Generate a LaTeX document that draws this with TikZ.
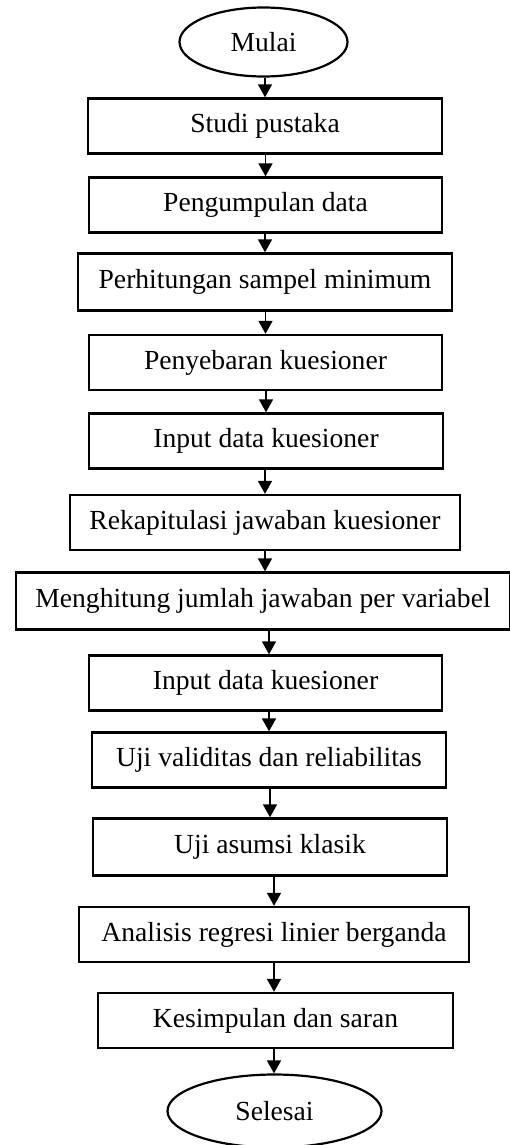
\documentclass[tikz,border=0pt]{standalone}
\usepackage{fontspec}
\setmainfont{Liberation Serif}
\usetikzlibrary{shapes.geometric,arrows.meta}

\begin{document}
\begin{tikzpicture}[x=0.5pt,y=-0.5pt,
    flow box/.style={draw, rectangle, line width=1.2pt, inner sep=0pt,
        minimum height=27.5pt, font=\fontsize{13.8}{16}\selectfont},
    flow end/.style={draw, ellipse, line width=1.1pt, inner sep=0pt,
        font=\fontsize{13.8}{16}\selectfont},
    flow arrow/.style={line width=0.9pt,
        -{Triangle[length=6.5pt,width=7pt]}}]
    \useasboundingbox (0,0) rectangle (509,1145);
    \draw (263.5,42) node (mulai) [flow end, minimum width=84pt, minimum height=34.5pt] {Mulai};
    \draw (265,126) node (studi) [flow box, minimum width=177pt] {Studi pustaka};
    \draw (265.5,205) node (kumpul) [flow box, minimum width=176.5pt] {Pengumpulan data};
    \draw (265,282) node (sampel) [flow box, minimum width=187pt, minimum height=28.5pt] {Perhitungan sampel minimum};
    \draw (265.5,362.5) node (sebar) [flow box, minimum width=176.5pt] {Penyebaran kuesioner};
    \draw (266,441) node (input1) [flow box, minimum width=177pt] {Input data kuesioner};
    \draw (265,522.5) node (rekap) [flow box, minimum width=195pt] {Rekapitulasi jawaban kuesioner};
    \draw (263,601) node (hitung) [flow box, minimum width=247pt, minimum height=28.5pt] {Menghitung jumlah jawaban per variabel};
    \draw (265.5,683) node (input2) [flow box, minimum width=176.5pt] {Input data kuesioner};
    \draw (269,760) node (validitas) [flow box, minimum width=177pt] {Uji validitas dan reliabilitas};
    \draw (270,847) node (asumsi) [flow box, minimum width=177pt, minimum height=28.5pt] {Uji asumsi klasik};
    \draw (274,934.5) node (regresi) [flow box, minimum width=195pt] {Analisis regresi linier berganda};
    \draw (275.5,1020.5) node (simpul) [flow box, minimum width=177.5pt] {Kesimpulan dan saran};
    \draw (274.5,1111) node (selesai) [flow end, minimum width=107pt, minimum height=36.5pt] {Selesai};

    \draw[flow arrow] (studi.north |- mulai.south) -- (studi.north);
    \draw[flow arrow] (kumpul.north |- studi.south) -- (kumpul.north);
    \draw[flow arrow] (sampel.north |- kumpul.south) -- (sampel.north);
    \draw[flow arrow] (sebar.north |- sampel.south) -- (sebar.north);
    \draw[flow arrow] (input1.north |- sebar.south) -- (input1.north);
    \draw[flow arrow] (rekap.north |- input1.south) -- (rekap.north);
    \draw[flow arrow] (rekap.south) -- (rekap.south |- hitung.north);
    \draw[flow arrow] (validitas.north |- hitung.south) -- (validitas.north |- input2.north);
    \draw[flow arrow] (validitas.north |- input2.south) -- (validitas.north);
    \draw[flow arrow] (asumsi.north |- validitas.south) -- (asumsi.north);
    \draw[flow arrow] (regresi.north |- asumsi.south) -- (regresi.north);
    \draw[flow arrow] (regresi.south) -- (regresi.south |- simpul.north);
    \draw[flow arrow] (regresi.south |- simpul.south) -- (regresi.south |- selesai.north);
\end{tikzpicture}
\end{document}
